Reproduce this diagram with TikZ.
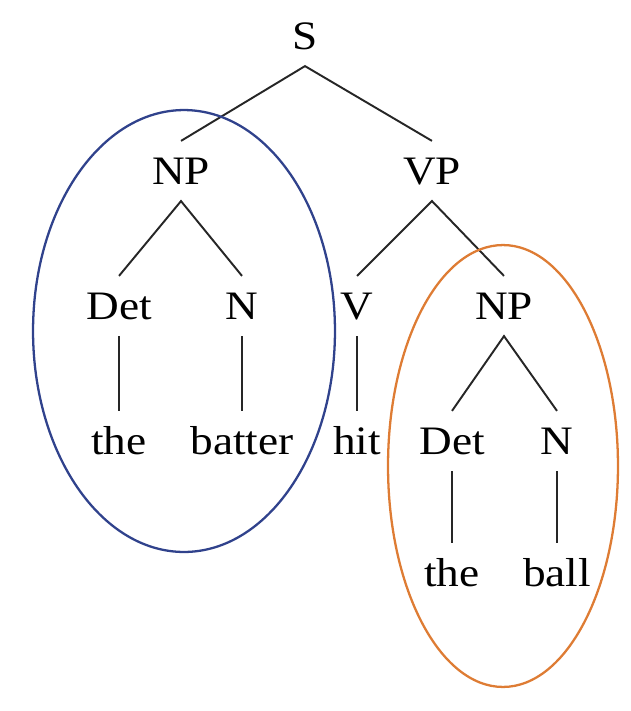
\documentclass[tikz,border=0pt]{standalone}
\usepackage{fontspec}
\setmainfont{Liberation Serif}[FakeStretch=1.12]
\usepackage{tikz}
\usetikzlibrary{calc, positioning}

\definecolor{npblue}{RGB}{48,66,140}
\definecolor{nporange}{RGB}{222,124,52}

\begin{document}
\begin{tikzpicture}[x=0.02cm, y=-0.02cm,
			font=\fontsize{23}{27}\selectfont,
			cat/.style={inner xsep=2pt, inner ysep=0.33cm, text height=0.53cm, text depth=0pt},
			l_1/.style={line width=1.1pt, black!85},
			ring/.style={line width=1.3pt}]
			\useasboundingbox (0,0) rectangle (631,711);
			% tree nodes
			\node[cat] (s) at (305,36) {S};
			\node[cat] (np) at (181,171) {NP};
			\node[cat] (vp) at (432,171) {VP};
			\node[cat] (det) at (119,306) {Det};
			\node[cat] (n) at (242,306) {N};
			\node[cat] (v) at (357,306) {V};
			\node[cat] (np2) at (504,306) {NP};
			\node[cat] (the) at (119,441) {the};
			\node[cat] (batter) at (242,441) {batter};
			\node[cat] (hit) at (357,441) {hit};
			\node[cat] (det2) at (452,441) {Det};
			\node[cat] (n2) at (557,441) {N};
			\node[cat] (the2) at (452,573) {the};
			\node[cat] (ball) at (557,573) {ball};
			
			% branches
			\draw[l_1] (np.north) -- (s.south) -- (vp.north);
			\draw[l_1] (det.north) -- (np.south) -- (n.north);
			\draw[l_1] (v.north) -- (vp.south) -- (np2.north);
			\draw[l_1] (det2.north) -- (np2.south) -- (n2.north);
			\draw[l_1] (det.south) -- (the.north);
			\draw[l_1] (n.south) -- (batter.north);
			\draw[l_1] (v.south) -- (hit.north);
			\draw[l_1] (det2.south) -- (the2.north);
			\draw[l_1] (n2.south) -- (ball.north);
			
			% the two noun phrases
			\draw[ring, npblue] (184,331) ellipse [x radius=3.02cm, y radius=4.42cm];
			\draw[ring, nporange] (503,466) ellipse [x radius=2.3cm, y radius=4.42cm];
		\end{tikzpicture}
\end{document}
